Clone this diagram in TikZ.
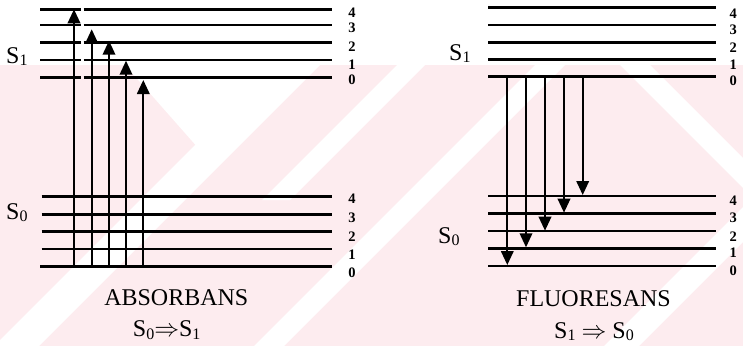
\documentclass[tikz,border=0pt]{standalone}
\usepackage{fontspec}
\setmainfont{Liberation Serif}
\usetikzlibrary{arrows.meta}
\definecolor{wm}{RGB}{253,236,239}
\newcommand\lsub[1]{\raisebox{-2.5pt}{\fontsize{16}{16}\selectfont #1}}
\begin{document}
\begin{tikzpicture}[x=1pt,y=-1pt,
  lvl/.style={line width=2.5pt},
  arr/.style={line width=2pt,-{Triangle[width=12.5pt,length=14pt]}},
  big/.style={font=\fontsize{24}{24}\selectfont, inner sep=0pt},
  num/.style={font=\fontsize{14.5}{14.5}\selectfont\bfseries, inner sep=0pt}]
\useasboundingbox (0,0) rectangle (743,346);
% watermark
\fill[wm] (0,65) rectangle (743,346);
\begin{scope}
\clip (0,65) rectangle (743,346);
\fill[white] (275,65)--(320,65)--(39,346)--(-6,346)--cycle;
\fill[white] (397,65)--(425,65)--(290,200)--(262,200)--cycle;
\fill[white] (535,65)--(565,65)--(284,346)--(254,346)--cycle;
\fill[white] (885,65)--(920,65)--(639,346)--(604,346)--cycle;
\fill[white] (620,65)--(650,65)--(931,346)--(901,346)--cycle;
\fill[white] (125,65)--(300,65)--(207,158)--cycle;
\end{scope}
% ---------- left: absorption ----------
\foreach \y in {9.3,25,42.7,60,77.3}{
  \draw[lvl] (40,\y) -- (80.5,\y);
  \draw[lvl] (83.5,\y) -- (332,\y);
}
\foreach \y in {196.7,214.3,231.7,249}{ \draw[lvl] (41.5,\y) -- (332,\y); }
\draw[lvl] (40,266.7) -- (332,266.7);
\foreach \n/\y in {4/12.7,3/27.5,2/46.7,1/65,0/80}{ \node[num] (la\n) at (352,\y) {\n}; }
\foreach \n/\y in {4/199,3/218,2/236.7,1/255,0/272.5}{ \node[num] (lb\n) at (352,\y) {\n}; }
\node[big,anchor=base west] (s1a) at (6,63.3) {S\lsub{1}};
\node[big,anchor=base west] (s0a) at (6,219.3) {S\lsub{0}};
\foreach \i/\x/\t in {1/74/9.3,2/91.7/29.3,3/109/40.7,4/126/60.7,5/143.3/80}{
  \coordinate (as\i) at (\x,266.7);
  \coordinate (ae\i) at (\x,\t);
  \draw[arr] (as\i) -- (ae\i);
}
\node[big,anchor=base] (absorb) at (176.3,305.7) {ABSORBANS};
\node[big,anchor=base] (absorbeq) at (166.7,336.7) {S\lsub{0}$\Rightarrow$S\lsub{1}};
% ---------- right: fluorescence ----------
\foreach \y in {7.3,25,42.3,59.3,76.7}{ \draw[lvl] (488,\y) -- (716,\y); }
\foreach \y in {196,213.3,231,248.3,266}{ \draw[lvl] (488,\y) -- (716,\y); }
\foreach \n/\y in {4/14,3/30,2/47.5,1/64.5,0/80.5}{ \node[num] (lc\n) at (733.3,\y) {\n}; }
\foreach \n/\y in {4/201,3/218,2/236.7,1/252.5,0/271}{ \node[num] (ld\n) at (733.3,\y) {\n}; }
\node[big,anchor=base west] (s1b) at (449,60) {S\lsub{1}};
\node[big,anchor=base west] (s0b) at (438,243) {S\lsub{0}};
\foreach \i/\x/\t in {1/507.3/265,2/526/247.3,3/545/230.7,4/564/212.7,5/582.7/195}{
  \coordinate (fs\i) at (\x,76.7);
  \coordinate (fe\i) at (\x,\t);
  \draw[arr] (fs\i) -- (fe\i);
}
\node[big,anchor=base] (fluor) at (593.5,306.7) {FLUORESANS};
\node[big,anchor=base] (fluoreq) at (594,338) {S\lsub{1} $\Rightarrow$ S\lsub{0}};
\end{tikzpicture}
\end{document}
